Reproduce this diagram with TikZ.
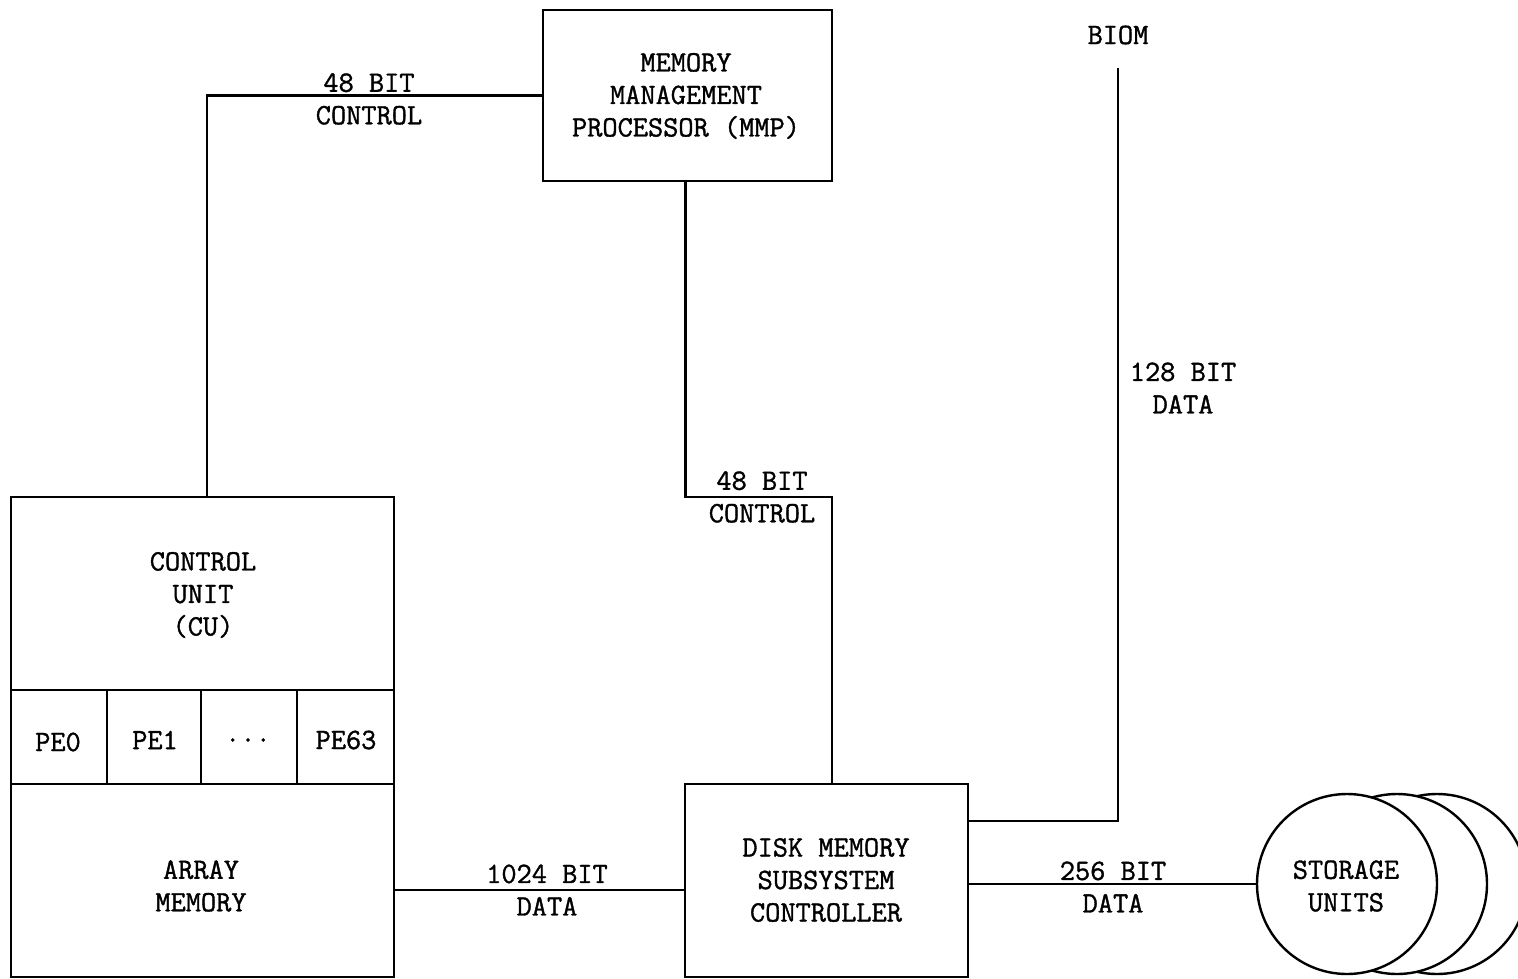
\documentclass[tikz,border=0pt]{standalone}
\usepackage{fontspec}
\setmonofont{Latin Modern Mono}[FakeBold=1.2]
\begin{document}
\begin{tikzpicture}[x=1pt,y=-1pt,
  every node/.style={font=\ttfamily\fontsize{29.5}{32.5}\selectfont, align=center},
  box/.style={draw, line width=2.4pt, rectangle, inner sep=0pt},
  lbl/.style={inner sep=0pt},
  wire/.style={line width=2.4pt},
  disk/.style={draw, line width=2.4pt, circle, fill=white, minimum size=180pt, inner sep=0pt}]
\useasboundingbox (0,0) rectangle (1518,979);
% Memory management processor
\node[box, minimum width=289pt, minimum height=171pt] (mmp) at (687.5,95.5) {};
\node[lbl] (mmpt) at (686,96) {MEMORY\\MANAGEMENT\\PROCESSOR (MMP)};
% Control unit / PEs / array memory
\node[box, minimum width=383pt, minimum height=193pt] (cu) at (202.5,593.5) {};
\node[lbl] (cut) at (203,595) {CONTROL\\UNIT\\(CU)};
\node[box, minimum width=96pt, minimum height=94pt] (pe0) at (59,737) {};
\node[box, minimum width=94pt, minimum height=94pt] (pe1) at (154,737) {};
\node[box, minimum width=96pt, minimum height=94pt] (ped) at (249,737) {};
\node[box, minimum width=97pt, minimum height=94pt] (pe63) at (345.5,737) {};
\node[lbl] (pe0t) at (58,742) {PE0};
\node[lbl] (pe1t) at (155,740) {PE1};
\node[lbl] (pedt) at (248,740) {...};
\node[lbl] (pe63t) at (346,740) {PE63};
\node[box, minimum width=383pt, minimum height=193pt] (am) at (202.5,880.5) {};
\node[lbl] (amt) at (201,886) {ARRAY\\MEMORY};
% Disk memory subsystem controller
\node[box, minimum width=283pt, minimum height=193pt] (dmsc) at (826.5,880.5) {};
\node[lbl] (dmsct) at (826,880) {DISK MEMORY\\SUBSYSTEM\\CONTROLLER};
% Storage units
\node[disk] (st3) at (1437,884) {};
\node[disk] (st2) at (1397,884) {};
\node[disk] (st) at (1347,884) {};
\node[lbl] (stt) at (1346,886) {STORAGE\\UNITS};
% BIOM
\node[lbl] (biom) at (1118,35) {BIOM};
\coordinate (btop) at (1118,68);
\coordinate (k) at (832,497);
% Connectors
\draw[wire] ([xshift=4.5pt]cu.north) |- (mmp.west);
\node[lbl] (l1) at (369,99) {48 BIT\\CONTROL};
\draw[wire] ([xshift=-2pt]mmp.south) |- (k) -- (k |- dmsc.north);
\node[lbl] (l2) at (762,497) {48 BIT\\CONTROL};
\draw[wire] (btop) |- ([yshift=-38pt]dmsc.north east);
\node[lbl] (l3) at (1183,388) {128 BIT\\DATA};
\draw[wire] ([yshift=-9.5pt]am.east) -- ([yshift=-9.5pt]am.east -| dmsc.west);
\node[lbl] (l4) at (547,890) {1024 BIT\\DATA};
\draw[wire] (dmsc.east |- st.west) -- (st.west);
\node[lbl] (l5) at (1113,887) {256 BIT\\DATA};
\end{tikzpicture}
\end{document}
